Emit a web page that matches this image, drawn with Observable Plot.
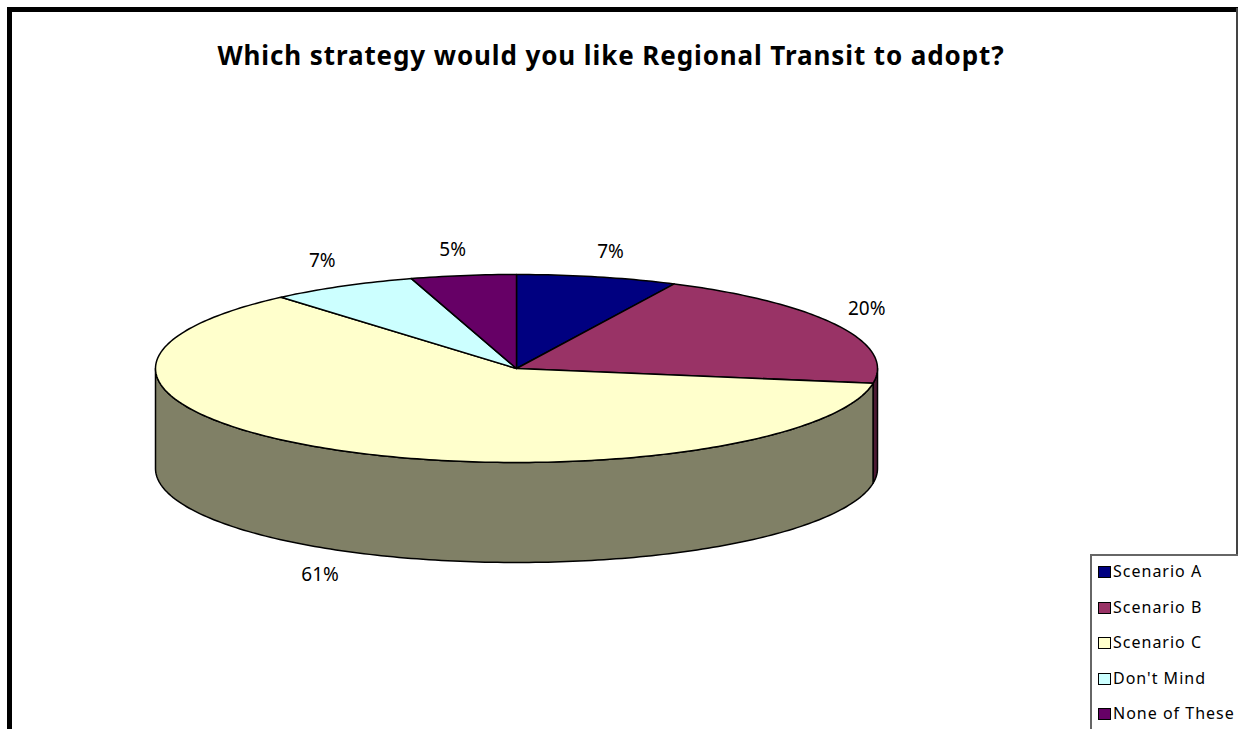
<!DOCTYPE html>
<html>
<head>
<meta charset="utf-8">
<script src="https://cdn.jsdelivr.net/npm/d3@7"></script>
<script src="https://cdn.jsdelivr.net/npm/@observablehq/plot@0.6"></script>
<style>
  html, body { margin: 0; padding: 0; background: #fff; overflow: hidden; }
  #page { position: relative; width: 1238px; height: 729px; overflow: hidden; }
  #frame { position: absolute; left: 7px; top: 7px; right: -10px; bottom: -10px;
           border-left: 5px solid #000; border-top: 5px solid #000; }
  #edge { position: absolute; left: 1236px; top: 8px; width: 2px; height: 548px; background: #444; }
  #title { position: absolute; left: 0; width: 1222px; top: 37px; text-align: center;
           font: bold 26px "Noto Sans", sans-serif; letter-spacing: 0.9px; color: #000; }
  #legend { position: absolute; left: 1090px; top: 554px; width: 160px; height: 190px;
            border: 2px solid #666; background: #fff; }
  #legend div { position: absolute; left: 6px; height: 20px; white-space: nowrap;
                font: 16px/20px "Noto Sans", sans-serif; letter-spacing: 1px; color: #000; }
  #legend span { display: inline-block; width: 11px; height: 10px; border: 1px solid #000;
                 margin-right: 2px; vertical-align: -1px; }
  #chart { position: absolute; left: 0; top: 0; }
</style>
</head>
<body>
<div id="page">
  <div id="frame"></div>
  <div id="edge"></div>
  <div id="chart"></div>
  <div id="title">Which strategy would you like Regional Transit to adopt?</div>
  <div id="legend"></div>
</div>
<script>
const categories = ["Scenario A", "Scenario B", "Scenario C", "Don't Mind", "None of These"];
const shares = [7.2, 20.3, 61.2, 6.6, 4.7];
const topColors = ["#000080", "#993366", "#FFFFCC", "#CCFFFF", "#660066"];
const sideColors = ["#000040", "#4D1A33", "#808066", "#668080", "#330033"];

// Pie proportions, in units of the pie's radius.
const tilt = 94 / 361;
const depth = 100 / 361;
const rad = Math.PI / 180;

const total = d3.sum(shares);
const cumulative = d3.cumsum(shares);
const slices = categories.map((name, i) => ({
  name,
  i,
  share: shares[i],
  from: (i ? cumulative[i - 1] : 0) / total * 360,
  to: cumulative[i] / total * 360
}));

// Angles run clockwise from twelve o'clock.
const rim = (deg, drop = 0) => ({
  x: Math.sin(deg * rad),
  y: Math.cos(deg * rad) * tilt - drop
});
const arcAngles = (a, b) => {
  const out = d3.range(a, b, 1);
  out.push(b);
  return out;
};

const topPoints = slices.flatMap((s) => [
  {i: s.i, x: 0, y: 0},
  ...arcAngles(s.from, s.to).map((a) => ({i: s.i, ...rim(a)}))
]);

// Only the half of the wall that faces the viewer is drawn.
const sidePoints = slices.flatMap((s) => {
  const a = Math.max(s.from, 90);
  const b = Math.min(s.to, 270);
  if (a >= b) return [];
  const angles = arcAngles(a, b);
  return [
    ...angles.map((t) => ({i: s.i, ...rim(t)})),
    ...angles.slice().reverse().map((t) => ({i: s.i, ...rim(t, depth)}))
  ];
});

// Labels sit just outside the rim, pushed a little further near the top of the ellipse.
const labels = slices.map((s) => {
  const mid = (s.from + s.to) / 2;
  const sin = Math.sin(mid * rad);
  const cos = Math.cos(mid * rad);
  const front = mid > 90 && mid < 270;
  return {
    text: `${Math.round(s.share)}%`,
    x: sin * 1.09 + Math.sign(sin) * 0.017 * cos * cos,
    y: cos * tilt * (1.4 - 0.13 * cos * cos) - (front ? depth : 0)
  };
});

const chart = Plot.plot({
  width: 1238,
  height: 729,
  margin: 0,
  style: {background: "transparent"},
  x: {axis: null, domain: [-516 / 361, 722 / 361], range: [0, 1238]},
  y: {axis: null, domain: [368 / 361, -361 / 361], range: [0, 729]},
  color: {type: "identity"},
  marks: [
    Plot.line(sidePoints, {x: "x", y: "y", z: "i", curve: "linear-closed",
      fill: (d) => sideColors[d.i], stroke: "#000", strokeWidth: 1.5}),
    Plot.line(topPoints, {x: "x", y: "y", z: "i", curve: "linear-closed",
      fill: (d) => topColors[d.i], stroke: "#000", strokeWidth: 1.5, strokeLinejoin: "round"}),
    Plot.text(labels, {x: "x", y: "y", text: "text", fontSize: 19,
      fontFamily: "Noto Sans, sans-serif", fill: "#000"})
  ]
});
document.getElementById("chart").append(chart);

// Legend box in the lower right corner, running off the bottom of the page.
const legend = document.getElementById("legend");
categories.forEach((name, i) => {
  const row = document.createElement("div");
  row.style.top = `${5 + i * 35.6}px`;
  const swatch = document.createElement("span");
  swatch.style.background = topColors[i];
  row.append(swatch, document.createTextNode(name));
  legend.append(row);
});
</script>
</body>
</html>
